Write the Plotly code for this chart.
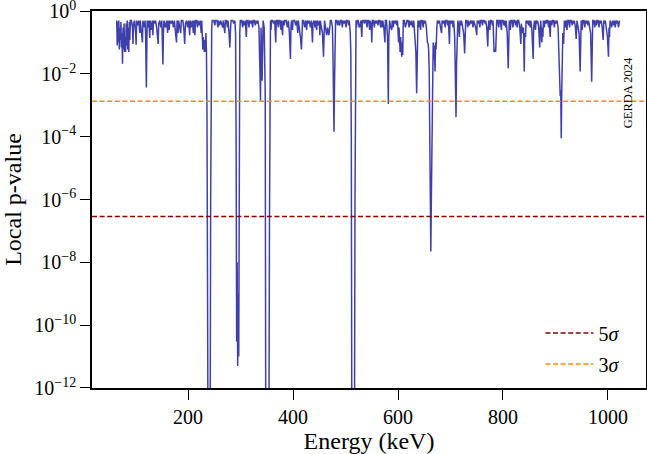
import plotly.graph_objects as go

# ---------------- data ----------------
# Energy (keV) / local p-value, split in segments
e_low = [64, 65, 66, 67, 68, 69, 70, 71, 72, 73,
         74, 75, 76, 77, 78, 79, 80, 81, 82, 83,
         84, 85, 86, 87, 88, 89, 90]
p_low = [0.5, 0.08, 0.45, 0.1, 0.5, 0.06, 0.3, 0.12, 0.45, 0.07,
         0.2, 0.021, 0.3, 0.06, 0.4, 0.05, 0.15, 0.05, 0.4, 0.08,
         0.5, 0.06, 0.3, 0.05, 0.45, 0.12, 0.5]

e_a = [92, 94, 95, 96, 98, 100, 101, 102, 104, 106,
       108, 109, 111, 113, 114, 116, 118, 119, 120.5, 121.5,
       122, 124, 125, 127, 128, 130, 132, 133, 134, 136,
       138, 140, 142, 143, 144, 146, 148, 150, 151, 152,
       153, 154, 157, 159, 161, 162, 164, 165, 168, 170,
       172, 174, 176, 178, 179, 181, 182, 184, 186, 187,
       190, 192, 193.5, 195, 197, 199, 201, 203, 204, 206,
       208, 210, 211, 213, 214, 216, 218, 219, 221, 223,
       225, 226, 228, 229, 231, 232, 233, 234, 235, 236]
p_a = [0.5, 0.3, 0.09, 0.4, 0.5, 0.2, 0.085, 0.5, 0.35, 0.5,
       0.2, 0.5, 0.15, 0.1, 0.5, 0.3, 0.5, 0.2, 0.0037, 0.15,
       0.5, 0.3, 0.5, 0.14, 0.5, 0.25, 0.5, 0.17, 0.5, 0.4,
       0.5, 0.3, 0.12, 0.09, 0.4, 0.5, 0.3, 0.5, 0.1, 0.02,
       0.2, 0.5, 0.3, 0.5, 0.2, 0.5, 0.25, 0.5, 0.4, 0.5,
       0.3, 0.5, 0.2, 0.1, 0.5, 0.2, 0.5, 0.35, 0.2, 0.5,
       0.5, 0.25, 0.09, 0.4, 0.5, 0.3, 0.5, 0.17, 0.5, 0.3,
       0.5, 0.2, 0.5, 0.17, 0.5, 0.5, 0.3, 0.5, 0.35, 0.5,
       0.2, 0.5, 0.06, 0.15, 0.05, 0.12, 0.05, 0.2, 0.05, 0.0005]

e_b = [237, 238, 239, 240, 241, 242, 243, 244, 245, 246]
p_b = [1e-14, 1e-14, 1e-14, 1e-14, 1e-14, 1e-14, 1e-6, 0.02, 0.3, 0.5]

e_c = [249, 251, 252, 255, 257, 258, 260, 262, 264, 266,
       267, 269, 270, 271, 273, 275, 276, 278, 279.5, 281,
       282, 285, 287, 289, 290.5, 291.5, 292.5, 293.5, 294.5, 295.5,
       296.5, 297.5, 298.5, 299.5]
p_c = [0.5, 0.35, 0.5, 0.5, 0.3, 0.5, 0.35, 0.5, 0.4, 0.3,
       0.5, 0.3, 0.2, 0.5, 0.5, 0.3, 0.5, 0.2, 0.07, 0.3,
       0.5, 0.5, 0.4, 0.5, 0.2, 7e-5, 3e-11, 1e-8, 5e-12, 1e-9,
       1e-11, 1e-3, 0.2, 0.5]

e_d = [302, 304, 305, 307, 309, 311, 312, 314, 316, 317,
       319, 321, 323, 324, 326, 328, 329, 331, 333, 335,
       336, 337, 338, 339, 340, 341, 342, 343, 345, 346,
       347, 348, 349, 350, 351, 352, 353, 354, 355, 356,
       357]
p_d = [0.5, 0.3, 0.5, 0.35, 0.5, 0.15, 0.5, 0.5, 0.3, 0.5,
       0.4, 0.5, 0.3, 0.5, 0.5, 0.35, 0.5, 0.4, 0.5, 0.3,
       0.1, 0.01, 0.0014, 0.3, 0.05, 0.006, 0.3, 0.5, 0.3, 0.05,
       0.002, 1e-14, 1e-14, 1e-14, 1e-14, 1e-14, 1e-14, 1e-14, 1e-7, 0.05,
       0.5]

e_e = [358, 359, 361, 363, 365, 367, 368, 370, 372, 373,
       375, 377, 378, 380, 381, 383, 384, 387, 389, 391,
       393, 395, 396, 397, 399, 400, 403, 405, 407, 409,
       410, 412, 414, 416, 417, 418, 420, 422, 424, 426,
       427, 429, 431, 433, 435, 437, 438, 440, 442, 443,
       445, 446, 448, 450, 451, 452, 454, 456, 458, 459,
       460, 462, 464, 466, 468, 470, 471, 473, 475, 476,
       477, 478, 479, 480, 481]
p_e = [0.25, 0.5, 0.5, 0.4, 0.5, 0.1, 0.5, 0.5, 0.3, 0.5,
       0.5, 0.25, 0.5, 0.17, 0.5, 0.35, 0.5, 0.5, 0.3, 0.5,
       0.2, 0.03, 0.3, 0.5, 0.25, 0.5, 0.5, 0.35, 0.5, 0.2,
       0.5, 0.3, 0.15, 0.06, 0.3, 0.5, 0.5, 0.3, 0.5, 0.25,
       0.5, 0.4, 0.5, 0.3, 0.5, 0.1, 0.4, 0.5, 0.3, 0.5,
       0.25, 0.5, 0.35, 0.5, 0.17, 0.5, 0.3, 0.2, 0.035, 0.2,
       0.5, 0.3, 0.17, 0.3, 0.17, 0.3, 0.5, 0.5, 0.3, 0.05,
       0.002, 1.45e-4, 0.005, 0.3, 0.5]

e_f = [483, 485, 486, 489, 490, 492, 494, 495, 497, 499,
       501, 502, 504, 506, 507, 509, 510, 511, 512, 513,
       514, 515, 516, 517, 518, 519, 520]
p_f = [0.5, 0.35, 0.5, 0.35, 0.5, 0.5, 0.3, 0.5, 0.4, 0.5,
       0.3, 0.5, 0.5, 0.35, 0.5, 0.2, 0.05, 1e-4, 1e-14, 1e-14,
       1e-14, 1e-14, 1e-14, 1e-14, 1e-6, 0.1, 0.5]

e_g = [521, 522, 524, 526, 527.5, 529, 531, 532, 534, 536,
       537, 539, 541, 542, 544, 546, 547, 549, 550, 551,
       553, 555, 556, 558, 560, 562, 563, 565, 567, 568,
       570, 571, 573, 575, 576, 578, 580, 581.5, 582.5, 584,
       586, 588, 589, 591, 592, 594, 596, 597.5, 599, 601,
       602, 604, 605, 607, 608, 609, 610, 612, 614, 616,
       617, 619, 621, 622, 624, 626, 628, 630, 632, 634,
       635.5, 637, 638, 640, 641, 643, 644, 646, 648, 649,
       651, 652, 654, 656, 657.5, 658.5, 659.5, 660.5, 661.5, 662.5,
       663.5, 664.5, 665.5, 667, 668, 669, 670.5, 671.5, 672.5, 674,
       675]
p_g = [0.3, 0.5, 0.5, 0.3, 0.35, 0.5, 0.15, 0.5, 0.5, 0.4,
       0.5, 0.5, 0.3, 0.5, 0.5, 0.25, 0.5, 0.35, 0.1, 0.5,
       0.5, 0.3, 0.5, 0.4, 0.5, 0.35, 0.5, 0.5, 0.3, 0.5,
       0.3, 0.5, 0.3, 0.1, 0.5, 0.5, 0.15, 0.0011, 0.15, 0.5,
       0.3, 0.25, 0.5, 0.3, 0.5, 0.4, 0.5, 0.35, 0.5, 0.1,
       0.3, 0.05, 0.15, 0.035, 0.1, 0.04, 0.5, 0.5, 0.3, 0.4,
       0.5, 0.5, 0.3, 0.5, 0.35, 0.5, 0.3, 0.5, 0.2, 0.05,
       0.0024, 0.2, 0.5, 0.3, 0.5, 0.25, 0.5, 0.5, 0.3, 0.5,
       0.4, 0.5, 0.3, 0.1, 0.09, 0.05, 0.01, 1e-4, 1e-6, 2.2e-8,
       1e-6, 1e-4, 0.05, 0.1, 0.03, 0.08, 0.012, 0.1, 0.06, 0.3,
       0.5]

e_h = [677, 679, 681, 683, 684, 686, 688, 690, 691, 693,
       695, 696, 698, 699, 701, 703, 705, 706, 708, 709,
       710.5, 711.5, 712.5, 714, 716, 717, 718, 720, 721, 723,
       725, 727, 728, 729, 731, 733, 734, 736, 738, 740,
       741, 743, 744, 746, 748, 750, 751, 753, 754, 756,
       757, 759, 761, 762, 764, 766, 767, 769, 771, 772,
       773, 775, 776, 778, 780, 781, 783, 785, 786, 787,
       788, 790, 792, 793, 795, 797, 798, 800, 802, 803,
       805, 806, 808, 810, 811, 812, 814, 815, 817, 819,
       820, 822, 824, 825, 827, 828, 830, 832, 834, 835,
       837, 839, 840.5, 841.5, 843, 844, 846, 847, 849, 850,
       852, 853, 855, 857.5, 858.5, 860, 862, 863, 865, 866,
       868, 870, 871, 872, 874, 875, 876, 877, 879, 880]
p_h = [0.4, 0.5, 0.3, 0.2, 0.5, 0.4, 0.5, 0.3, 0.5, 0.5,
       0.35, 0.5, 0.09, 0.5, 0.4, 0.5, 0.3, 0.5, 0.15, 0.02,
       0.00042, 0.02, 0.15, 0.5, 0.3, 0.15, 0.5, 0.35, 0.5, 0.3,
       0.2, 0.045, 0.2, 0.5, 0.5, 0.3, 0.5, 0.35, 0.5, 0.4,
       0.5, 0.3, 0.5, 0.4, 0.3, 0.17, 0.5, 0.4, 0.5, 0.3,
       0.5, 0.5, 0.35, 0.5, 0.5, 0.4, 0.5, 0.3, 0.075, 0.3,
       0.5, 0.25, 0.5, 0.5, 0.35, 0.5, 0.05, 0.06, 0.05, 0.15,
       0.5, 0.5, 0.3, 0.5, 0.5, 0.25, 0.5, 0.5, 0.35, 0.5,
       0.3, 0.5, 0.2, 0.015, 0.3, 0.5, 0.25, 0.5, 0.5, 0.3,
       0.5, 0.5, 0.35, 0.5, 0.3, 0.5, 0.5, 0.3, 0.09, 0.4,
       0.2, 0.3, 0.012, 0.2, 0.15, 0.5, 0.4, 0.5, 0.35, 0.5,
       0.3, 0.5, 0.25, 0.03, 0.3, 0.5, 0.25, 0.5, 0.4, 0.5,
       0.3, 0.07, 0.3, 0.5, 0.1, 0.3, 0.15, 0.5, 0.3, 0.5]

e_i = [882, 883, 885, 887, 888, 890, 891, 893, 894, 896,
       898, 899, 901, 903, 905, 906, 907, 908, 909, 910,
       911, 912, 913, 914, 915.5, 917, 919, 920, 922, 923,
       925, 927, 928, 930, 932, 933, 935, 936, 938, 939.5,
       941, 943, 945, 947, 948, 949, 951, 952, 954, 956,
       957, 959, 960, 962, 963, 965, 967, 969, 970, 971,
       973, 975, 976, 978, 979, 981, 983, 984, 986, 987,
       989, 991, 992, 994, 995, 997, 999, 1001, 1002, 1003,
       1004, 1006, 1007, 1009, 1011, 1012, 1014, 1015, 1017, 1018,
       1020, 1021, 1022]
p_i = [0.4, 0.5, 0.5, 0.3, 0.5, 0.15, 0.5, 0.35, 0.5, 0.5,
       0.3, 0.5, 0.4, 0.5, 0.3, 0.05, 0.1, 0.01, 0.002, 0.003,
       9e-5, 0.003, 0.05, 0.2, 0.09, 0.5, 0.3, 0.5, 0.25, 0.5,
       0.5, 0.3, 0.5, 0.5, 0.35, 0.5, 0.4, 0.5, 0.3, 0.13,
       0.5, 0.3, 0.2, 0.012, 0.3, 0.5, 0.25, 0.5, 0.5, 0.3,
       0.5, 0.4, 0.5, 0.35, 0.5, 0.3, 0.2, 0.0056, 0.2, 0.5,
       0.5, 0.3, 0.5, 0.35, 0.5, 0.5, 0.3, 0.5, 0.4, 0.5,
       0.3, 0.12, 0.5, 0.4, 0.5, 0.3, 0.15, 0.035, 0.3, 0.15,
       0.5, 0.4, 0.3, 0.5, 0.35, 0.5, 0.3, 0.5, 0.4, 0.5,
       0.3, 0.5, 0.5]

energy = e_low + e_a + e_b + e_c + e_d + e_e + e_f + e_g + e_h + e_i
p_value = p_low + p_a + p_b + p_c + p_d + p_e + p_f + p_g + p_h + p_i

# significance thresholds (local p-value)
sigma_labels = ["5<i>σ</i>", "3<i>σ</i>"]
sigma_pvalues = [2.87e-7, 1.35e-3]
sigma_colors = ["#8b0000", "#ff8c00"]

x_range = [16.9, 1072.5]
y_log_range = [-12.003, 0.003]
y_tick_vals = [1e-12, 1e-10, 1e-8, 1e-6, 1e-4, 1e-2, 1]
y_tick_text = ["10<sup>−12</sup>", "10<sup>−10</sup>", "10<sup>−8</sup>",
               "10<sup>−6</sup>", "10<sup>−4</sup>", "10<sup>−2</sup>", "10<sup>0</sup>"]
x_tick_vals = [200, 400, 600, 800, 1000]

FONT = "Liberation Serif"

fig = go.Figure()
fig.add_trace(go.Scatter(
    x=energy, y=p_value, mode="lines",
    line=dict(color="#4040ad", width=1.5),
    showlegend=False, hoverinfo="skip"))

for lab, pv, col in zip(sigma_labels, sigma_pvalues, sigma_colors):
    fig.add_trace(go.Scatter(
        x=x_range, y=[pv, pv], mode="lines", name=lab, legendgroup=lab,
        line=dict(color=col, width=1.5, dash="5px,2.6px")))

fig.update_layout(
    width=647, height=454,
    margin=dict(l=92, r=1, t=11, b=66),
    paper_bgcolor="white", plot_bgcolor="white",
    font=dict(family=FONT, size=20, color="black"),
    showlegend=True,
    legend=dict(x=0.961, y=0.012, xanchor="right", yanchor="bottom",
                bgcolor="rgba(255,255,255,0.8)", borderwidth=0,
                itemwidth=48,
                font=dict(family=FONT, size=20), tracegroupgap=2),
    xaxis=dict(range=x_range, tickvals=x_tick_vals, ticks="outside", ticklen=10,
               tickwidth=1.2, tickcolor="black", showline=True, linecolor="black",
               linewidth=1.5, mirror=True, showgrid=False, zeroline=False,
               automargin=False, ticklabelstandoff=0,
               title=dict(text="Energy (keV)", standoff=7),
               tickfont=dict(size=20)),
    yaxis=dict(type="log", range=y_log_range, tickvals=y_tick_vals, ticktext=y_tick_text,
               ticks="outside", ticklen=10, tickwidth=1.2, tickcolor="black",
               showline=True, linecolor="black", linewidth=1.5, mirror=True,
               showgrid=False, zeroline=False, automargin=False,
               ticklabeloverflow="allow",
               title=dict(text="Local p-value", standoff=6),
               tickfont=dict(size=20)),
)

fig.add_annotation(text="GERDA 2024", textangle=-90, xref="paper", yref="paper",
                   x=0.983, y=0.883, showarrow=False,
                   font=dict(family=FONT, size=12.5, color="black"))

fig.write_html("out.html", config={"displayModeBar": False},
               post_script="document.body.style.margin='0px';")
